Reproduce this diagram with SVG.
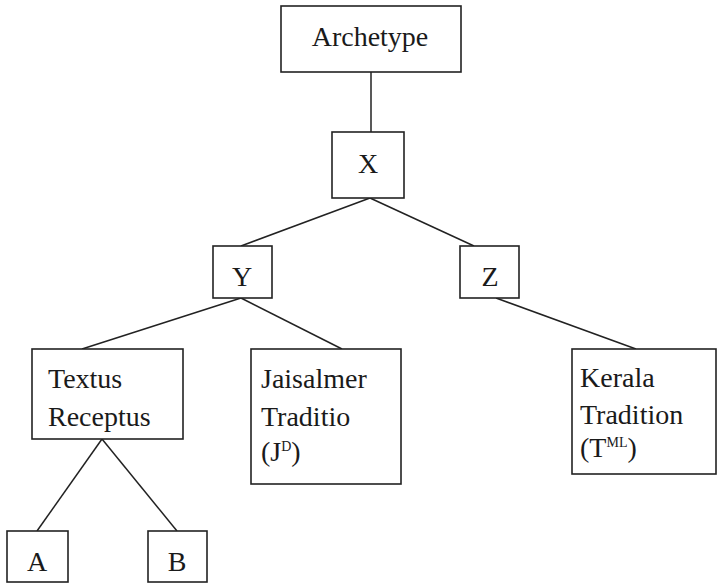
<svg xmlns="http://www.w3.org/2000/svg" width="717" height="584" viewBox="0 0 717 584">
<style>
.box{fill:#fff;stroke:#222;stroke-width:1.6}
.edge{stroke:#222;stroke-width:1.5;fill:none}
text{font-family:"Liberation Serif","Times New Roman",serif;font-size:28px;fill:#1a1a1a}
.c{text-anchor:middle}
.sup{font-size:14px}
</style>
<rect width="717" height="584" fill="#fff"/>
<g id="connectors">
<line class="edge" x1="371" y1="72" x2="371" y2="132"/>
<line class="edge" x1="370" y1="198" x2="241" y2="246"/>
<line class="edge" x1="370" y1="198" x2="474" y2="246"/>
<line class="edge" x1="241" y1="298" x2="82" y2="349"/>
<line class="edge" x1="241" y1="298" x2="342" y2="349"/>
<line class="edge" x1="496" y1="298" x2="636" y2="349"/>
<line class="edge" x1="102" y1="439" x2="37" y2="531"/>
<line class="edge" x1="102" y1="439" x2="177" y2="531"/>
</g>
<g id="archetype"><rect class="box" x="281" y="6" width="180" height="66"/><text class="c" x="370" y="46">Archetype</text></g>
<g id="x"><rect class="box" x="332" y="132" width="72" height="66"/><text class="c" x="368" y="173">X</text></g>
<g id="y"><rect class="box" x="213" y="246" width="59" height="52"/><text class="c" x="242" y="286">Y</text></g>
<g id="z"><rect class="box" x="460" y="246" width="59" height="52"/><text class="c" x="490" y="286">Z</text></g>
<g id="textus"><rect class="box" x="32" y="349" width="151" height="90"/><text x="48" y="388">Textus</text><text x="48" y="426">Receptus</text></g>
<g id="jaisalmer"><rect class="box" x="251" y="349" width="150" height="135"/><text x="261" y="388">Jaisalmer</text><text x="261" y="426">Traditio</text><text x="261" y="461">(J<tspan class="sup" dy="-10">D</tspan><tspan dy="10">)</tspan></text></g>
<g id="kerala"><rect class="box" x="572" y="349" width="144" height="125"/><text x="580" y="387">Kerala</text><text x="580" y="424">Tradition</text><text x="580" y="457">(T<tspan class="sup" dy="-10">ML</tspan><tspan dy="10">)</tspan></text></g>
<g id="a"><rect class="box" x="7" y="531" width="61" height="51"/><text class="c" x="37" y="571">A</text></g>
<g id="b"><rect class="box" x="148" y="531" width="59" height="51"/><text class="c" x="177" y="571">B</text></g>
</svg>
